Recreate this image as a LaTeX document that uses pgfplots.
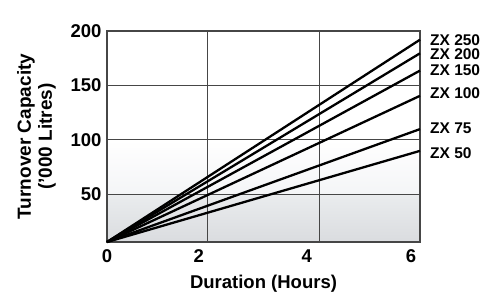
\documentclass[border=0pt]{standalone}
\usepackage{pgfplots}
\pgfplotsset{compat=1.18}
\usepackage{fontspec}
\setmainfont{Liberation Sans}
\definecolor{gridc}{RGB}{70,70,70}
\definecolor{bgA}{RGB}{244,245,247}
\definecolor{bgB}{RGB}{234,236,238}
\definecolor{bgC}{RGB}{218,220,223}
\tikzset{zxlab/.style={font=\fontsize{15.5}{17}\selectfont\bfseries, anchor=west, black, inner sep=0pt},
  zxline/.style={black, line width=2.3pt, mark=none}}
\begin{document}
\begin{tikzpicture}
\begin{axis}[
  name=ax,
  set layers,
  scale only axis,
  width=313pt, height=211pt,
  xmin=0, xmax=6, ymin=6, ymax=200,
  axis line style={gridc, line width=1.3pt},
  xtick={0,1.76,3.83,5.83},
  xticklabels={0,2,4,6},
  extra x ticks={1.93,4.08},
  extra x tick labels={},
  extra x tick style={grid=major, major tick length=0pt},
  ytick={50,100,150,200},
  ymajorgrids,
  grid style={gridc, line width=0.9pt},
  major tick length=0pt,
  tick label style={font=\fontsize{18.5}{20}\selectfont\bfseries},
  /pgf/number format/assume math mode=true,
  xticklabel style={yshift=-4pt},
  yticklabel style={xshift=-2pt},
  xlabel={Duration (Hours)},
  xlabel style={font=\fontsize{18.5}{20}\selectfont\bfseries, yshift=-6pt},
  ylabel={Turnover Capacity\\('000 Litres)},
  ylabel style={font=\fontsize{19}{21}\selectfont\bfseries, align=center, yshift=8pt},
  clip=false,
]
\begin{pgfonlayer}{axis background}
\path[shade, top color=white, bottom color=bgA] (axis cs:0,100) rectangle (axis cs:6,50);
\path[shade, top color=bgB, bottom color=bgC] (axis cs:0,50) rectangle (axis cs:6,6);
\end{pgfonlayer}
\addplot[zxline] coordinates {(0,6) (6,192)} node[zxlab, pos=1, xshift=9pt, yshift=0pt] {ZX 250};
\addplot[zxline] coordinates {(0,6) (6,179.5)} node[zxlab, pos=1, xshift=9pt, yshift=-1pt] {ZX 200};
\addplot[zxline] coordinates {(0,6) (6,163.6)} node[zxlab, pos=1, xshift=9pt, yshift=0pt] {ZX 150};
\addplot[zxline] coordinates {(0,6) (6,140.4)} node[zxlab, pos=1, xshift=9pt, yshift=3pt] {ZX 100};
\addplot[zxline] coordinates {(0,6) (6,109.8)} node[zxlab, pos=1, xshift=9pt, yshift=1pt] {ZX 75};
\addplot[zxline] coordinates {(0,6) (6,89.8)} node[zxlab, pos=1, xshift=9pt, yshift=-2pt] {ZX 50};
\end{axis}
\pgfresetboundingbox
\path ([xshift=-107pt,yshift=-59pt]ax.south west) rectangle ([xshift=80pt,yshift=31pt]ax.north east);
\end{tikzpicture}
\end{document}
